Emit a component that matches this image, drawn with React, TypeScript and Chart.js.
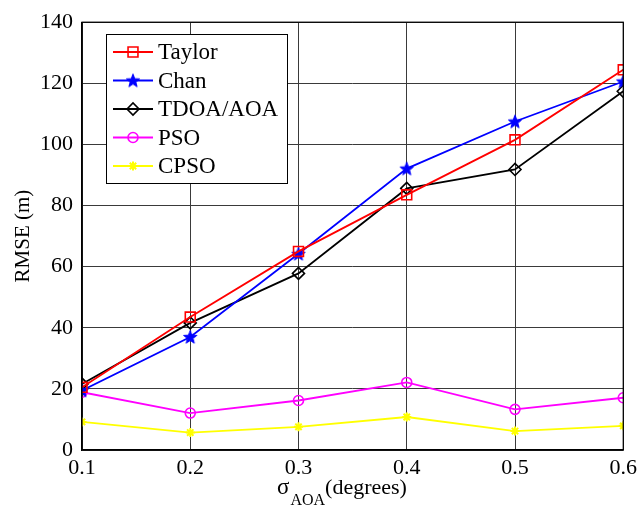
import React, { useEffect, useRef } from "react";
import { Chart, registerables } from "chart.js";

Chart.register(...registerables);

const xValues = [0.1, 0.2, 0.3, 0.4, 0.5, 0.6];
const taylor = [20.5, 43.5, 65, 83.5, 101.5, 124.4];
const chan = [19.5, 37.0, 64.2, 92.1, 107.5, 120.6];
const tdoaAoa = [21.6, 41.6, 57.8, 85.6, 91.8, 117.4];
const pso = [18.9, 12.1, 16.2, 22.1, 13.3, 17.1];
const cpso = [9.2, 5.7, 7.6, 10.8, 6.2, 7.9];
const seriesNames = ["Taylor", "Chan", "TDOA/AOA", "PSO", "CPSO"];

const FONT = "'Liberation Serif', 'Times New Roman', serif";

function makePentagram(color: string, r: number): HTMLCanvasElement {
  const c = document.createElement("canvas");
  const s = Math.ceil(2 * r + 2);
  c.width = s;
  c.height = s;
  const ctx = c.getContext("2d")!;
  const cx = s / 2;
  const cy = s / 2 + r * 0.08;
  const inner = r * 0.42;
  ctx.beginPath();
  for (let i = 0; i < 10; i++) {
    const rad = i % 2 === 0 ? r : inner;
    const a = -Math.PI / 2 + (i * Math.PI) / 5;
    const px = cx + rad * Math.cos(a);
    const py = cy + rad * Math.sin(a);
    if (i === 0) ctx.moveTo(px, py);
    else ctx.lineTo(px, py);
  }
  ctx.closePath();
  ctx.fillStyle = color;
  ctx.fill();
  ctx.strokeStyle = color;
  ctx.lineWidth = 1;
  ctx.stroke();
  return c;
}

export default function App() {
  const ref = useRef<HTMLCanvasElement | null>(null);

  useEffect(() => {
    if (!ref.current) return;
    const star = makePentagram("#0000ff", 7);
    const colors = ["#ff0000", "#0000ff", "#000000", "#ff00ff", "#ffff00"];
    const styles: any[] = ["rect", star, "rectRot", "circle", "star"];
    const radii = [7, 7, 6, 5, 4.5];
    const dataSets = [taylor, chan, tdoaAoa, pso, cpso];

    const decorPlugin = {
      id: "matlabDecor",
      afterDraw(chart: any) {
        const { ctx, chartArea } = chart;
        const { left, right, top, bottom } = chartArea;
        ctx.save();
        ctx.strokeStyle = "#000";
        ctx.lineWidth = 1.2;
        ctx.strokeRect(left, top, right - left, bottom - top);

        // legend
        const lx = 106, ly = 34, lw = 181, lh = 149;
        ctx.fillStyle = "#fff";
        ctx.fillRect(lx, ly, lw, lh);
        ctx.lineWidth = 1;
        ctx.strokeStyle = "#000";
        ctx.strokeRect(lx + 0.5, ly + 0.5, lw, lh);
        const rowsY = [52, 80.5, 109, 137.5, 166];
        for (let i = 0; i < seriesNames.length; i++) {
          const y = rowsY[i];
          ctx.strokeStyle = colors[i];
          ctx.lineWidth = 1.8;
          ctx.beginPath();
          ctx.moveTo(113, y);
          ctx.lineTo(153, y);
          ctx.stroke();
          const meta = chart.getDatasetMeta(i);
          const el = meta.data[0];
          if (el) {
            const ox = el.x, oy = el.y;
            el.x = 133; el.y = y;
            el.draw(ctx, undefined);
            el.x = ox; el.y = oy;
          }
          ctx.fillStyle = "#000";
          ctx.font = "23px " + FONT;
          ctx.textBaseline = "middle";
          ctx.textAlign = "left";
          ctx.fillText(seriesNames[i], 158, y + 1);
        }

        // x axis title with subscript
        ctx.fillStyle = "#000";
        ctx.textBaseline = "alphabetic";
        ctx.textAlign = "left";
        let x = 277;
        const by = 494;
        ctx.font = "23px " + FONT;
        ctx.fillText("σ", x, by);
        x += ctx.measureText("σ").width + 1;
        ctx.font = "16px " + FONT;
        ctx.fillText("AOA", x, by + 11);
        x += ctx.measureText("AOA").width;
        ctx.font = "22px " + FONT;
        ctx.fillText("(degrees)", x, by);
        ctx.restore();
      },
    };

    const chart = new Chart(ref.current, {
      type: "line",
      data: {
        datasets: dataSets.map((d, i) => ({
          label: seriesNames[i],
          data: d.map((v, j) => ({ x: xValues[j], y: v })),
          borderColor: colors[i],
          backgroundColor: i === 4 ? colors[i] : "rgba(0,0,0,0)",
          pointBorderColor: colors[i],
          pointBackgroundColor: i === 1 || i === 4 ? colors[i] : "rgba(0,0,0,0)",
          pointStyle: styles[i],
          pointRadius: radii[i],
          pointBorderWidth: i === 4 ? 2 : 1.6,
          borderWidth: 1.8,
          tension: 0,
        })),
      },
      options: {
        responsive: false,
        animation: false,
        layout: { padding: { left: 0, right: 18, top: 18, bottom: 0 } },
        plugins: {
          legend: { display: false },
          tooltip: { enabled: false },
        },
        scales: {
          x: {
            type: "linear",
            min: 0.1,
            max: 0.6,
            grid: { color: "#3a3a3a", lineWidth: 1, drawTicks: false },
            border: { color: "#000", width: 1.2 },
            ticks: {
              stepSize: 0.1,
              padding: 5,
              color: "#000",
              font: { family: FONT, size: 22 },
              callback: (v: any) => Number(v).toFixed(1),
            },
            afterFit: (s: any) => {
              s.height = 60;
            },
          },
          y: {
            min: 0,
            max: 140,
            grid: { color: "#3a3a3a", lineWidth: 1, drawTicks: false },
            border: { color: "#000", width: 1.2 },
            ticks: {
              stepSize: 20,
              padding: 9,
              color: "#000",
              font: { family: FONT, size: 22 },
            },
            title: {
              display: true,
              text: "RMSE (m)",
              color: "#000",
              font: { family: FONT, size: 21 },
              padding: { top: 11, bottom: 0 },
            },
            afterFit: (s: any) => {
              s.width = 82;
            },
          },
        },
      },
      plugins: [decorPlugin],
    } as any);

    return () => chart.destroy();
  }, []);

  return (
    <div style={{ position: "absolute", left: 0, top: 0, width: 642, height: 510, background: "#fff" }}>
      <canvas ref={ref} width={642} height={510} style={{ display: "block" }} />
    </div>
  );
}
